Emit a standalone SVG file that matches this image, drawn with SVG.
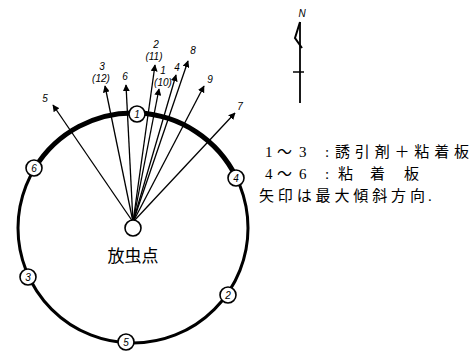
<svg xmlns="http://www.w3.org/2000/svg" width="475" height="351" viewBox="0 0 475 351">
<style>
.ring{fill:none;stroke:#000;stroke-width:3}
.ringT{fill:none;stroke:#000;stroke-width:5}
.arr{stroke:#000;stroke-width:1.3;fill:none;marker-end:url(#ah)}
.node circle{fill:#fff;stroke:#000;stroke-width:1.6}
.nt{font-family:"Liberation Sans",sans-serif;font-style:italic;font-size:10px;text-anchor:middle}
.lb{font-family:"Liberation Sans",sans-serif;font-style:italic;font-size:10px;text-anchor:middle}
.lg{font-family:"Liberation Serif","Noto Sans CJK JP",serif;font-size:15px}
.cj{font-family:"Noto Sans CJK JP",sans-serif;font-size:15px}
</style>
<defs>
<marker id="ah" viewBox="0 0 10 10" refX="9" refY="5" markerWidth="7" markerHeight="7" markerUnits="userSpaceOnUse" orient="auto">
<path d="M0,0 L10,5 L0,10 Z" fill="#000"/>
</marker>
</defs>
<rect width="475" height="351" fill="#fff"/>
<g id="ring">
<circle class="ring" cx="133" cy="228" r="115"/>
<path class="ringT" d="M34.8,168.1 A115,115 0 0 1 236.3,177.4"/>
</g>
<g id="connectors">
<line class="arr" x1="133" y1="222" x2="53" y2="105"/>
<line class="arr" x1="133" y1="222" x2="105" y2="86"/>
<line class="arr" x1="133" y1="222" x2="126" y2="85"/>
<line class="arr" x1="133" y1="222" x2="155" y2="65"/>
<line class="arr" x1="133" y1="222" x2="159" y2="89"/>
<line class="arr" x1="133" y1="222" x2="176" y2="75"/>
<line class="arr" x1="133" y1="222" x2="188" y2="61"/>
<line class="arr" x1="133" y1="222" x2="204" y2="86"/>
<line class="arr" x1="133" y1="222" x2="235" y2="113"/>
</g>
<g id="arrow-labels">
<text class="lb" x="45" y="102">5</text>
<text class="lb" x="102" y="70">3</text>
<text class="lb" x="101" y="82">(12)</text>
<text class="lb" x="125" y="80">6</text>
<text class="lb" x="156" y="48">2</text>
<text class="lb" x="154" y="60">(11)</text>
<text class="lb" x="163" y="74">1</text>
<text class="lb" x="163" y="86">(10)</text>
<text class="lb" x="177" y="71">4</text>
<text class="lb" x="193" y="54">8</text>
<text class="lb" x="210" y="83">9</text>
<text class="lb" x="240" y="110">7</text>
</g>
<g id="release" class="node">
<circle cx="133" cy="228" r="8"/>
<text x="133" y="262" font-family="Noto Sans CJK JP,sans-serif" font-size="17" text-anchor="middle">放虫点</text>
</g>
<g id="n1" class="node"><circle cx="137" cy="114" r="8"/><text class="nt" x="137" y="118">1</text></g>
<g id="n4" class="node"><circle cx="236" cy="178" r="8"/><text class="nt" x="236" y="182">4</text></g>
<g id="n6" class="node"><circle cx="34" cy="168" r="8"/><text class="nt" x="34" y="172">6</text></g>
<g id="n3" class="node"><circle cx="28" cy="277" r="8"/><text class="nt" x="28" y="281">3</text></g>
<g id="n2" class="node"><circle cx="228" cy="295" r="8"/><text class="nt" x="228" y="299">2</text></g>
<g id="n5" class="node"><circle cx="126" cy="342" r="8"/><text class="nt" x="126" y="346">5</text></g>
<g id="compass">
<text x="302" y="17" font-family="Liberation Sans,sans-serif" font-style="italic" font-size="10" text-anchor="middle">N</text>
<line x1="300" y1="22" x2="300" y2="103" stroke="#000" stroke-width="1.8"/>
<path d="M300,22 L295,38 L302,48" fill="none" stroke="#000" stroke-width="2"/>
<line x1="293" y1="72" x2="304" y2="72" stroke="#000" stroke-width="1.5"/>
</g>
<g id="legend">
<text class="lg" x="265" y="157">1</text>
<text class="lg" x="277" y="157">〜</text>
<text class="lg" x="299" y="157">3</text>
<text class="lg" x="325" y="157">:</text>
<text class="cj" x="335" y="157" textLength="134" lengthAdjust="spacing">誘引剤＋粘着板</text>
<text class="lg" x="265" y="179">4</text>
<text class="lg" x="277" y="179">〜</text>
<text class="lg" x="299" y="179">6</text>
<text class="lg" x="325" y="179">:</text>
<text class="cj" x="338" y="179">粘</text>
<text class="cj" x="370" y="179">着</text>
<text class="cj" x="404" y="179">板</text>
<text class="cj" x="259" y="201" textLength="166" lengthAdjust="spacing">矢印は最大傾斜方向</text>
<text class="lg" x="428" y="201">.</text>
</g>
</svg>
